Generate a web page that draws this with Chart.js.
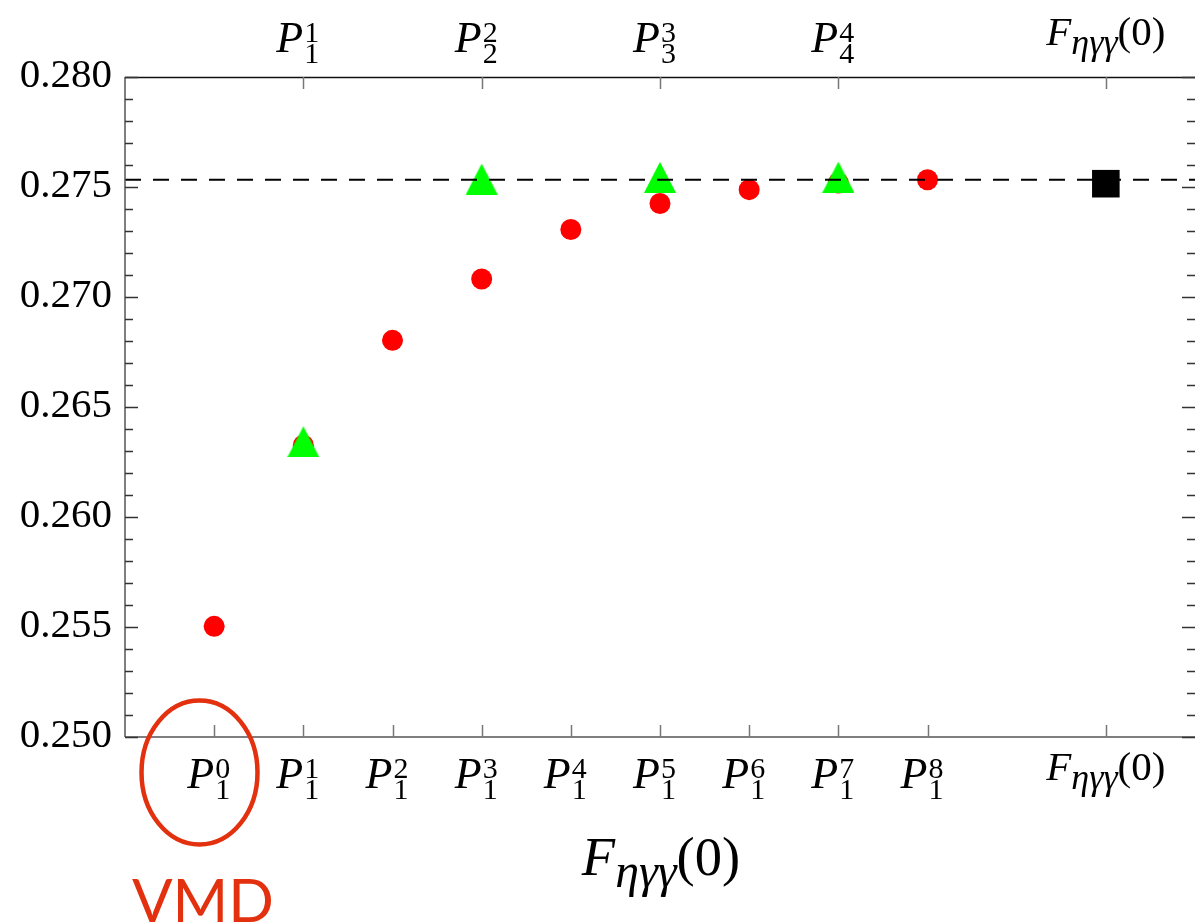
<!DOCTYPE html>
<html lang="en">
<head>
<meta charset="UTF-8">
<title>F_ηγγ(0) - Padé approximants</title>
<script src="https://cdn.jsdelivr.net/npm/chart.js"></script>
<style>
    body { margin: 0; background: #ffffff; }
    #wrap { width: 1195px; height: 923px; }
</style>
</head>
<body>
<div id="wrap"><canvas id="grafico" width="1195" height="923"></canvas></div>
<script>
    // valores
    const ordemP1N = [0, 1, 2, 3, 4, 5, 6, 7, 8];
    const valoresP1N = [0.25503, 0.26326, 0.26803, 0.27082, 0.27307, 0.27425, 0.27488, 0.27518, 0.27533];
    const ordemPNN = [1, 3, 5, 7];
    const valoresPNN = [0.26342, 0.27536, 0.27544, 0.27545];
    const xFinal = [10];
    const valorFinal = [0.27515];
    const linhaRef = 0.27533;

    // rotulos dos eixos
    const yLabels = ['0.250', '0.255', '0.260', '0.265', '0.270', '0.275', '0.280'];
    const posBaixo = [0, 1, 2, 3, 4, 5, 6, 7, 8, 10];
    const rotBaixo = [['1', '0'], ['1', '1'], ['1', '2'], ['1', '3'], ['1', '4'], ['1', '5'], ['1', '6'], ['1', '7'], ['1', '8'], 'F'];
    const posTopo = [1, 3, 5, 7, 10];
    const rotTopo = [['1', '1'], ['2', '2'], ['3', '3'], ['4', '4'], 'F'];

    const SERIF = '"Liberation Serif", "Times New Roman", serif';
    const VERMELHO = '#e3300e';

    // triangulo verde (um pouco mais baixo que equilatero, como na figura)
    const tri = document.createElement('canvas');
    tri.width = 32; tri.height = 31;
    const tctx = tri.getContext('2d');
    tctx.fillStyle = '#00ff00';
    tctx.beginPath();
    tctx.moveTo(16, 0);
    tctx.lineTo(32, 31);
    tctx.lineTo(0, 31);
    tctx.closePath();
    tctx.fill();

    function desenhaP(ctx, x, base, sub, sup) {
        ctx.textAlign = 'left';
        ctx.textBaseline = 'alphabetic';
        ctx.font = 'italic 44px ' + SERIF;
        ctx.fillText('P', x - 27, base);
        ctx.font = '30px ' + SERIF;
        ctx.fillText(sup, x + 1, base - 10);
        ctx.fillText(sub, x + 1, base + 11);
    }

    function desenhaF(ctx, cx, base, k) {
        const fF = 41 * k, fS = 36 * k;
        ctx.textBaseline = 'alphabetic';
        ctx.textAlign = 'left';
        ctx.font = 'italic ' + fF + 'px ' + SERIF;
        const wF = ctx.measureText('F').width;
        ctx.font = 'italic ' + fS + 'px ' + SERIF;
        const wS = ctx.measureText('ηγγ').width;
        ctx.font = fF + 'px ' + SERIF;
        const wP = ctx.measureText('(0)').width;
        let x = cx - (wF + wS + wP) / 2;
        ctx.font = 'italic ' + fF + 'px ' + SERIF;
        ctx.fillText('F', x, base);
        x += wF;
        ctx.font = 'italic ' + fS + 'px ' + SERIF;
        ctx.fillText('ηγγ', x, base + 9 * k);
        x += wS;
        ctx.font = fF + 'px ' + SERIF;
        ctx.fillText('(0)', x, base);
    }

    const moldura = {
        id: 'moldura',
        afterDatasetsDraw(chart) {
            const ctx = chart.ctx;
            const a = chart.chartArea;
            const sx = chart.scales.x, sy = chart.scales.y;
            ctx.save();

            // linhas da moldura (a direita fica fora da imagem)
            ctx.lineWidth = 1.5;
            ctx.strokeStyle = '#111';
            ctx.beginPath(); ctx.moveTo(a.left, a.top + 0.5); ctx.lineTo(a.right, a.top + 0.5); ctx.stroke();
            ctx.strokeStyle = '#555';
            ctx.beginPath(); ctx.moveTo(a.left, a.bottom); ctx.lineTo(a.right, a.bottom); ctx.stroke();
            ctx.beginPath(); ctx.moveTo(a.left, a.top); ctx.lineTo(a.left, a.bottom); ctx.stroke();

            // ticks do eixo y (para dentro), esquerda e direita
            ctx.strokeStyle = '#333';
            ctx.lineWidth = 1.3;
            for (let i = 0; i <= 30; i++) {
                const y = Math.round(sy.getPixelForValue(0.25 + i * 0.001)) + 0.5;
                const len = (i % 5 === 0) ? 13 : 8;
                ctx.beginPath();
                ctx.moveTo(a.left, y); ctx.lineTo(a.left + len, y);
                ctx.moveTo(a.right, y); ctx.lineTo(a.right - len, y);
                ctx.stroke();
            }

            // ticks x (baixo e topo)
            ctx.strokeStyle = '#777';
            ctx.lineWidth = 1.5;
            posBaixo.forEach(v => {
                const x = Math.round(sx.getPixelForValue(v)) + 0.5;
                ctx.beginPath(); ctx.moveTo(x, a.bottom); ctx.lineTo(x, a.bottom - 12); ctx.stroke();
            });
            posTopo.forEach(v => {
                const x = Math.round(sx.getPixelForValue(v)) + 0.5;
                ctx.beginPath(); ctx.moveTo(x, a.top); ctx.lineTo(x, a.top + 12); ctx.stroke();
            });

            // rotulos y
            ctx.fillStyle = '#000';
            ctx.font = '41px ' + SERIF;
            ctx.textAlign = 'right';
            ctx.textBaseline = 'alphabetic';
            yLabels.forEach(t => {
                const y = sy.getPixelForValue(parseFloat(t));
                ctx.fillText(t, 112, y + 10);
            });

            // rotulos x embaixo
            posBaixo.forEach((v, i) => {
                const x = sx.getPixelForValue(v);
                const r = rotBaixo[i];
                if (r === 'F') desenhaF(ctx, x, 780, 1);
                else desenhaP(ctx, x, 788, r[0], r[1]);
            });
            // rotulos x no topo
            posTopo.forEach((v, i) => {
                const x = sx.getPixelForValue(v);
                const r = rotTopo[i];
                if (r === 'F') desenhaF(ctx, x, 45, 1);
                else desenhaP(ctx, x, 52, r[0], r[1]);
            });

            // titulo do eixo x
            desenhaF(ctx, 661, 875, 1.33);

            // anotacao VMD
            ctx.strokeStyle = VERMELHO;
            ctx.lineWidth = 4.5;
            ctx.beginPath();
            ctx.ellipse(199.5, 772.5, 58, 72, 0, 0, Math.PI * 2);
            ctx.stroke();
            ctx.fillStyle = VERMELHO;
            ctx.font = '60px Lato, "Open Sans", sans-serif';
            ctx.textAlign = 'left';
            ctx.fillText('VMD', 132, 922);

            ctx.restore();
        }
    };

    new Chart(document.getElementById('grafico'), {
        type: 'scatter',
        data: {
            datasets: [
                {
                    label: 'referencia',
                    data: [{ x: -1, y: linhaRef }, { x: 11, y: linhaRef }],
                    showLine: true,
                    borderColor: '#000',
                    borderWidth: 2.2,
                    borderDash: [16, 12],
                    pointRadius: 0,
                    order: 0
                },
                {
                    label: 'F(0)',
                    data: xFinal.map((x, i) => ({ x: x, y: valorFinal[i] })),
                    pointStyle: 'rect',
                    pointRadius: 19.5,
                    backgroundColor: '#000',
                    borderWidth: 0,
                    order: 1
                },
                {
                    label: 'P_N^N',
                    data: ordemPNN.map((x, i) => ({ x: x, y: valoresPNN[i] })),
                    pointStyle: tri,
                    pointRadius: 16,
                    borderWidth: 0,
                    order: 2
                },
                {
                    label: 'P_1^N',
                    data: ordemP1N.map((x, i) => ({ x: x, y: valoresP1N[i] })),
                    pointStyle: 'circle',
                    pointRadius: 10.5,
                    backgroundColor: '#ff0000',
                    borderWidth: 0,
                    order: 3
                }
            ]
        },
        options: {
            responsive: false,
            animation: false,
            devicePixelRatio: 1,
            layout: { autoPadding: false, padding: { left: 125, right: 0, top: 77, bottom: 186 } },
            scales: {
                x: { type: 'linear', min: -1, max: 11, display: false },
                y: { type: 'linear', min: 0.25, max: 0.28, display: false }
            },
            plugins: {
                legend: { display: false },
                tooltip: { enabled: false }
            },
            clip: false
        },
        plugins: [moldura]
    });
</script>
</body>
</html>
